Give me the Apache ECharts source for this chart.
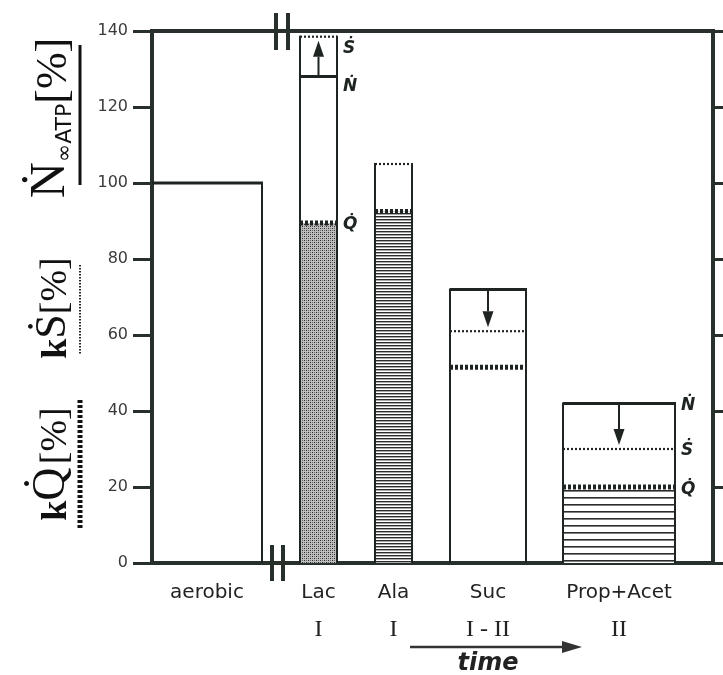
<!DOCTYPE html>
<html>
<head>
<meta charset="utf-8">
<script src="https://cdn.jsdelivr.net/npm/echarts@6/dist/echarts.min.js"></script>
<style>
  html, body { margin: 0; padding: 0; background: #fff; }
  #chart { width: 723px; height: 675px; }
</style>
</head>
<body>
<div id="chart"></div>
<script>
// Substrate condition under each bar, and the anaerobic phase it belongs to
const categories = ['aerobic', 'Lac', 'Ala', 'Suc', 'Prop+Acet'];
const phases = ['', 'I', 'I', 'I - II', 'II'];
// Percent of the aerobic level: ATP turnover (N), calorimetric heat (S), heat from catabolism (Q)
const nValues = [100, 128, null, 72, 42];
const sValues = [null, 138.5, 105, 61, 30];
const qValues = [null, 89.5, 92.5, 51.5, 20];
// Y-axis tick labels
const yTicks = [0, 20, 40, 60, 80, 100, 120, 140];

// Horizontal placement of each bar along the (hidden) x axis, plus its fill style
const barLayout = [
  { x0: 0,   x1: 110, fill: 'none',    leftIsAxis: true },
  { x0: 148, x1: 185, fill: 'stipple', side: true, dy: { N: 10, S: 12, Q: 2 } },
  { x0: 223, x1: 260, fill: 'fine' },
  { x0: 298, x1: 374, fill: 'none' },
  { x0: 411, x1: 523, fill: 'coarse',  side: true, dy: { N: 2, S: 2, Q: 3 } }
];
const X_MAX = 561;
const INK = '#1e2420';
const AXIS_INK = '#28302b';

function makePattern(w, h, draw) {
  const c = document.createElement('canvas');
  c.width = w; c.height = h;
  draw(c.getContext('2d'));
  return { image: c, repeat: 'repeat' };
}
const patterns = {
  stipple: makePattern(4, 4, ctx => {
    ctx.fillStyle = '#bdbdbd'; ctx.fillRect(0, 0, 4, 4);
    ctx.fillStyle = '#2e2e2e';
    ctx.fillRect(0, 0, 1, 1); ctx.fillRect(2, 2, 1, 1);
    ctx.fillStyle = '#6a6a6a';
    ctx.fillRect(2, 0, 1, 1); ctx.fillRect(0, 2, 1, 1);
  }),
  fine: makePattern(4, 3, ctx => {
    ctx.fillStyle = '#ffffff'; ctx.fillRect(0, 0, 4, 3);
    ctx.fillStyle = '#2c2c2c'; ctx.fillRect(0, 0, 4, 1);
    ctx.fillStyle = '#a8a8a8'; ctx.fillRect(0, 1, 4, 1);
  }),
  coarse: makePattern(4, 7, ctx => {
    ctx.fillStyle = '#ffffff'; ctx.fillRect(0, 0, 4, 7);
    ctx.fillStyle = '#2c2c2c'; ctx.fillRect(0, 0, 4, 1.6);
  })
};

const num = v => (v === null || v === undefined) ? NaN : v;
const seriesData = categories.map((c, i) => ({
  value: [i, num(nValues[i]), num(sValues[i]), num(qValues[i])]
}));

function arrow(cx, yFrom, yTo) {
  const dir = yTo < yFrom ? -1 : 1;
  const headLen = 16, headHalf = 5.5;
  const base = yTo - dir * headLen;
  return [
    { type: 'line', shape: { x1: cx, y1: yFrom, x2: cx, y2: base },
      style: { stroke: INK, lineWidth: 2 } },
    { type: 'polygon', shape: { points: [[cx, yTo], [cx - headHalf, base], [cx + headHalf, base]] },
      style: { fill: INK } }
  ];
}

function renderBar(params, api) {
  const i = api.value(0);
  const n = api.value(1), s = api.value(2), q = api.value(3);
  const lay = barLayout[i];
  const p0 = api.coord([lay.x0, 0]);
  const p1 = api.coord([lay.x1, 0]);
  const xl = p0[0], xr = p1[0], y0 = p0[1];
  const cx = (xl + xr) / 2;
  const yOf = v => api.coord([lay.x0, v])[1];
  const children = [];

  if (lay.fill !== 'none' && isFinite(q)) {
    const yq = yOf(q);
    children.push({ type: 'rect', shape: { x: xl, y: yq, width: xr - xl, height: y0 - yq },
      style: { fill: patterns[lay.fill] } });
  }
  const top = Math.max(isFinite(n) ? n : -Infinity, isFinite(s) ? s : -Infinity);
  const yTop = yOf(top);
  if (!lay.leftIsAxis) {
    children.push({ type: 'line', shape: { x1: xl, y1: y0, x2: xl, y2: yTop - 1 },
      style: { stroke: INK, lineWidth: 2 } });
  }
  children.push({ type: 'line', shape: { x1: xr, y1: y0, x2: xr, y2: yTop - 1 },
    style: { stroke: INK, lineWidth: 2 } });

  if (isFinite(n)) {
    const yn = yOf(n);
    children.push({ type: 'line', shape: { x1: xl, y1: yn, x2: xr + 1, y2: yn },
      style: { stroke: INK, lineWidth: 3 } });
  }
  if (isFinite(s)) {
    const ys = yOf(s);
    children.push({ type: 'line', shape: { x1: xl, y1: ys, x2: xr, y2: ys },
      style: { stroke: INK, lineWidth: 2.2, lineDash: [2, 2] } });
  }
  if (isFinite(q)) {
    const yq = yOf(q);
    children.push({ type: 'line', shape: { x1: xl, y1: yq, x2: xr, y2: yq },
      style: { stroke: INK, lineWidth: 5, lineDash: [3, 2] } });
  }
  if (isFinite(n) && isFinite(s)) {
    const yn = yOf(n), ys = yOf(s);
    const tip = ys + (ys < yn ? 4 : -4);
    children.push(...arrow(cx, yn, tip));
  }
  if (lay.side) {
    const font = 'italic bold 17px "DejaVu Sans", sans-serif';
    const lbl = (txt, v, dy) => ({ type: 'text', style: {
      text: txt, x: xr + 6, y: yOf(v) + dy, align: 'left', verticalAlign: 'middle',
      font: font, fill: INK } });
    if (isFinite(n)) children.push(lbl('Ṅ', n, lay.dy.N));
    if (isFinite(s)) children.push(lbl('Ṡ', s, lay.dy.S));
    if (isFinite(q)) children.push(lbl('Q\u0307', q, lay.dy.Q));
  }
  // Condition label and phase numeral beneath the axis
  children.push({ type: 'text', style: {
    text: categories[i], x: cx, y: y0 + 30, align: 'center', verticalAlign: 'middle',
    font: '20px "DejaVu Sans", sans-serif', fill: '#222' } });
  if (phases[i]) {
    children.push({ type: 'text', style: {
      text: phases[i], x: cx, y: y0 + 67, align: 'center', verticalAlign: 'middle',
      font: '24px "Liberation Serif", "DejaVu Serif", serif', fill: '#222' } });
  }
  return { type: 'group', children: children };
}

const chart = echarts.init(document.getElementById('chart'), null, { renderer: 'canvas' });

const yAxisCommon = {
  type: 'value',
  min: yTicks[0],
  max: yTicks[yTicks.length - 1],
  interval: yTicks[1] - yTicks[0],
  axisLine: { show: false },
  splitLine: { show: false }
};

chart.setOption({
  animation: false,
  backgroundColor: '#ffffff',
  grid: {
    left: 152, right: 10, top: 31, bottom: 112,
    show: true, borderWidth: 4, borderColor: AXIS_INK, backgroundColor: 'transparent'
  },
  xAxis: { type: 'value', min: 0, max: X_MAX, show: false },
  yAxis: [
    Object.assign({}, yAxisCommon, {
      position: 'left',
      axisTick: { show: true, length: 19, lineStyle: { color: AXIS_INK, width: 3 } },
      axisLabel: { show: true, margin: 24, fontSize: 16, color: '#3a3a3a',
        fontFamily: '"DejaVu Sans", sans-serif',
        formatter: v => String(v) }
    }),
    Object.assign({}, yAxisCommon, {
      position: 'right',
      axisTick: { show: true, length: 12, lineStyle: { color: AXIS_INK, width: 3 } },
      axisLabel: { show: false }
    })
  ],
  series: [{
    type: 'custom',
    renderItem: renderBar,
    data: seriesData,
    clip: false,
    z: 3
  }],
  graphic: [
    // axis break marks, top and bottom
    { type: 'rect', shape: { x: 274, y: 13, width: 4, height: 37 }, style: { fill: AXIS_INK }, z: 10 },
    { type: 'rect', shape: { x: 286, y: 13, width: 4, height: 37 }, style: { fill: AXIS_INK }, z: 10 },
    { type: 'rect', shape: { x: 270, y: 545, width: 4, height: 36 }, style: { fill: AXIS_INK }, z: 10 },
    { type: 'rect', shape: { x: 281, y: 545, width: 4, height: 36 }, style: { fill: AXIS_INK }, z: 10 },
    // time arrow
    { type: 'line', shape: { x1: 410, y1: 647, x2: 566, y2: 647 }, style: { stroke: '#333', lineWidth: 2.5 } },
    { type: 'polygon', shape: { points: [[582, 647], [562, 641], [562, 653]] }, style: { fill: '#333' } },
    { type: 'text', style: { text: 'time', x: 488, y: 664, align: 'center', verticalAlign: 'middle',
      font: 'italic bold 24px "DejaVu Sans", sans-serif', fill: '#222' } },
    // y-axis title: three rotated quantities with their line keys
    { type: 'text', rotation: Math.PI / 2, x: 51, y: 118, style: {
      text: '{n|Ṅ}{sub|∞ATP}{br|[%]}', align: 'center', verticalAlign: 'middle',
      rich: {
        n: { fontFamily: '"Liberation Serif", "DejaVu Serif", serif', fontSize: 50, verticalAlign: 'bottom', lineHeight: 50, fill: '#111' },
        sub: { fontFamily: '"DejaVu Sans", sans-serif', fontSize: 22, verticalAlign: 'bottom', lineHeight: 22, fill: '#111' },
        br: { fontFamily: '"Liberation Serif", "DejaVu Serif", serif', fontSize: 44, verticalAlign: 'bottom', lineHeight: 50, fill: '#111' }
      } } },
    { type: 'line', shape: { x1: 80, y1: 45, x2: 80, y2: 185 }, style: { stroke: '#111', lineWidth: 3 } },
    { type: 'text', rotation: Math.PI / 2, x: 53, y: 308, style: {
      text: '{k|k}{s|Ṡ}{br|[%]}', align: 'center', verticalAlign: 'middle',
      rich: {
        k: { fontFamily: '"Liberation Serif", "DejaVu Serif", serif', fontWeight: 'bold', fontSize: 36, verticalAlign: 'bottom', lineHeight: 44, fill: '#111' },
        s: { fontFamily: '"Liberation Serif", "DejaVu Serif", serif', fontSize: 44, verticalAlign: 'bottom', lineHeight: 44, fill: '#111' },
        br: { fontFamily: '"Liberation Serif", "DejaVu Serif", serif', fontSize: 38, verticalAlign: 'bottom', lineHeight: 44, fill: '#111' }
      } } },
    { type: 'line', shape: { x1: 80, y1: 265, x2: 80, y2: 355 }, style: { stroke: '#222', lineWidth: 2, lineDash: [1.5, 1.5] } },
    { type: 'text', rotation: Math.PI / 2, x: 52, y: 464, style: {
      text: '{k|k}{q|Q\u0307} {br|[%]}', align: 'center', verticalAlign: 'middle',
      rich: {
        k: { fontFamily: '"Liberation Serif", "DejaVu Serif", serif', fontWeight: 'bold', fontSize: 36, verticalAlign: 'bottom', lineHeight: 46, fill: '#111' },
        q: { fontFamily: '"Liberation Serif", "DejaVu Serif", serif', fontSize: 46, verticalAlign: 'bottom', lineHeight: 46, fill: '#111' },
        br: { fontFamily: '"Liberation Serif", "DejaVu Serif", serif', fontSize: 38, verticalAlign: 'bottom', lineHeight: 46, fill: '#111' }
      } } },
    { type: 'line', shape: { x1: 80, y1: 400, x2: 80, y2: 530 }, style: { stroke: '#111', lineWidth: 5, lineDash: [3, 2] } }
  ]
});
</script>
</body>
</html>
